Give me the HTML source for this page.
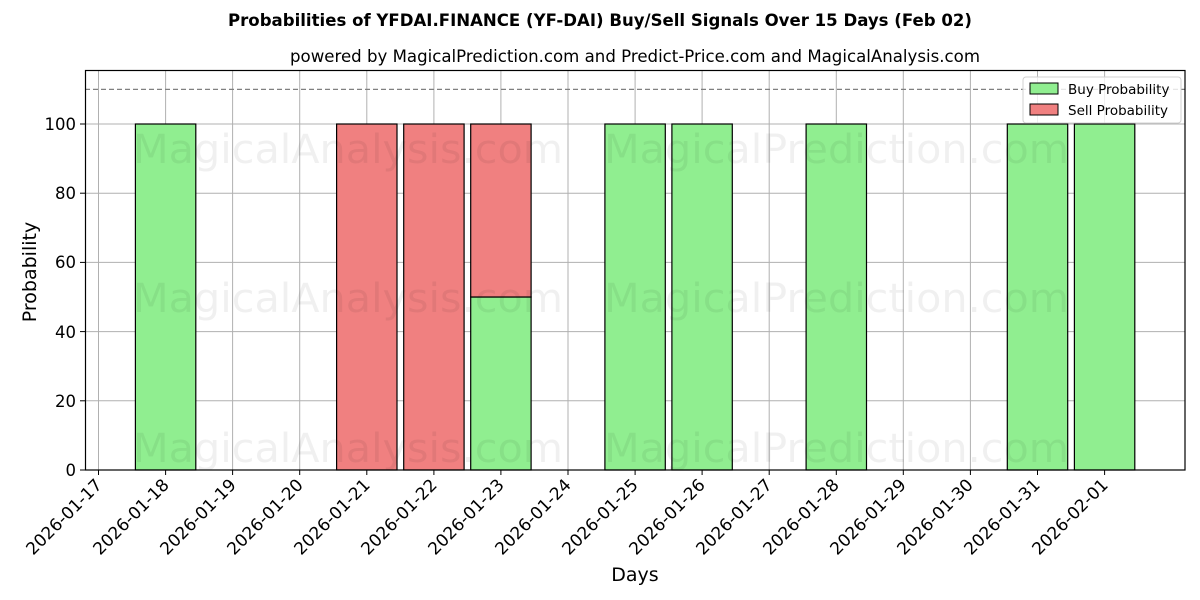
<!DOCTYPE html>
<html><head><meta charset="utf-8"><style>body{margin:0;background:#fff}svg{display:block;font-family:"DejaVu Sans","Liberation Sans",sans-serif}</style></head>
<body>
<svg width="1200" height="600" xmlns="http://www.w3.org/2000/svg">
<rect width="1200" height="600" fill="#fff"/>
<text x="600" y="26" text-anchor="middle" font-size="16.5" font-weight="bold" textLength="744" lengthAdjust="spacingAndGlyphs">Probabilities of YFDAI.FINANCE (YF-DAI) Buy/Sell Signals Over 15 Days (Feb 02)</text>
<text x="635" y="62" text-anchor="middle" font-size="16.5" textLength="690" lengthAdjust="spacingAndGlyphs">powered by MagicalPrediction.com and Predict-Price.com and MagicalAnalysis.com</text>
<g stroke="#b0b0b0" stroke-width="1">
<line x1="98.5" y1="70" x2="98.5" y2="470"/><line x1="165.6" y1="70" x2="165.6" y2="470"/><line x1="232.6" y1="70" x2="232.6" y2="470"/><line x1="299.7" y1="70" x2="299.7" y2="470"/><line x1="366.8" y1="70" x2="366.8" y2="470"/><line x1="433.9" y1="70" x2="433.9" y2="470"/><line x1="500.9" y1="70" x2="500.9" y2="470"/><line x1="568" y1="70" x2="568" y2="470"/><line x1="635.1" y1="70" x2="635.1" y2="470"/><line x1="702.1" y1="70" x2="702.1" y2="470"/><line x1="769.2" y1="70" x2="769.2" y2="470"/><line x1="836.3" y1="70" x2="836.3" y2="470"/><line x1="903.3" y1="70" x2="903.3" y2="470"/><line x1="970.4" y1="70" x2="970.4" y2="470"/><line x1="1037.5" y1="70" x2="1037.5" y2="470"/><line x1="1104.6" y1="70" x2="1104.6" y2="470"/>
<line x1="85" y1="124" x2="1185" y2="124"/><line x1="85" y1="193.2" x2="1185" y2="193.2"/><line x1="85" y1="262.4" x2="1185" y2="262.4"/><line x1="85" y1="331.6" x2="1185" y2="331.6"/><line x1="85" y1="400.8" x2="1185" y2="400.8"/>
</g>
<line x1="85" y1="89.4" x2="1185" y2="89.4" stroke="#808080" stroke-width="1.2" stroke-dasharray="5,3"/>
<g stroke="#000" stroke-width="1.2">
<rect x="135.4" y="124" width="60.4" height="346" fill="#90ee90"/>
<rect x="336.6" y="124" width="60.4" height="346" fill="#f08080"/>
<rect x="403.7" y="124" width="60.4" height="346" fill="#f08080"/>
<rect x="470.7" y="297" width="60.4" height="173" fill="#90ee90"/>
<rect x="470.7" y="124" width="60.4" height="173" fill="#f08080"/>
<rect x="604.9" y="124" width="60.4" height="346" fill="#90ee90"/>
<rect x="671.9" y="124" width="60.4" height="346" fill="#90ee90"/>
<rect x="806.1" y="124" width="60.4" height="346" fill="#90ee90"/>
<rect x="1007.3" y="124" width="60.4" height="346" fill="#90ee90"/>
<rect x="1074.4" y="124" width="60.4" height="346" fill="#90ee90"/>
</g>
<g font-size="40" fill="#000" fill-opacity="0.06">
<text x="133" y="163" textLength="430" lengthAdjust="spacingAndGlyphs">MagicalAnalysis.com</text><text x="604" y="163" textLength="465" lengthAdjust="spacingAndGlyphs">MagicalPrediction.com</text>
<text x="133" y="312" textLength="430" lengthAdjust="spacingAndGlyphs">MagicalAnalysis.com</text><text x="604" y="312" textLength="465" lengthAdjust="spacingAndGlyphs">MagicalPrediction.com</text>
<text x="133" y="462" textLength="430" lengthAdjust="spacingAndGlyphs">MagicalAnalysis.com</text><text x="604" y="462" textLength="465" lengthAdjust="spacingAndGlyphs">MagicalPrediction.com</text>
</g>
<rect x="85.5" y="70.5" width="1099.5" height="399.5" fill="none" stroke="#000" stroke-width="1.2"/>
<g stroke="#000" stroke-width="1">
<line x1="80" y1="470" x2="85" y2="470"/><line x1="80" y1="400.8" x2="85" y2="400.8"/><line x1="80" y1="331.6" x2="85" y2="331.6"/><line x1="80" y1="262.4" x2="85" y2="262.4"/><line x1="80" y1="193.2" x2="85" y2="193.2"/><line x1="80" y1="124" x2="85" y2="124"/>
</g>
<g font-size="16.5" text-anchor="end">
<text x="76" y="476">0</text><text x="76" y="407">20</text><text x="76" y="338">40</text><text x="76" y="268">60</text><text x="76" y="199">80</text><text x="76" y="130">100</text>
</g>
<g stroke="#000" stroke-width="1">
<line x1="98.5" y1="470" x2="98.5" y2="475"/><line x1="165.6" y1="470" x2="165.6" y2="475"/><line x1="232.6" y1="470" x2="232.6" y2="475"/><line x1="299.7" y1="470" x2="299.7" y2="475"/><line x1="366.8" y1="470" x2="366.8" y2="475"/><line x1="433.9" y1="470" x2="433.9" y2="475"/><line x1="500.9" y1="470" x2="500.9" y2="475"/><line x1="568" y1="470" x2="568" y2="475"/><line x1="635.1" y1="470" x2="635.1" y2="475"/><line x1="702.1" y1="470" x2="702.1" y2="475"/><line x1="769.2" y1="470" x2="769.2" y2="475"/><line x1="836.3" y1="470" x2="836.3" y2="475"/><line x1="903.3" y1="470" x2="903.3" y2="475"/><line x1="970.4" y1="470" x2="970.4" y2="475"/><line x1="1037.5" y1="470" x2="1037.5" y2="475"/><line x1="1104.6" y1="470" x2="1104.6" y2="475"/>
</g>
<g font-size="17" text-anchor="end">
<text transform="translate(103,486) rotate(-45)">2026-01-17</text>
<text transform="translate(170,486) rotate(-45)">2026-01-18</text>
<text transform="translate(237,486) rotate(-45)">2026-01-19</text>
<text transform="translate(304,486) rotate(-45)">2026-01-20</text>
<text transform="translate(371,486) rotate(-45)">2026-01-21</text>
<text transform="translate(438,486) rotate(-45)">2026-01-22</text>
<text transform="translate(505,486) rotate(-45)">2026-01-23</text>
<text transform="translate(572,486) rotate(-45)">2026-01-24</text>
<text transform="translate(639,486) rotate(-45)">2026-01-25</text>
<text transform="translate(706,486) rotate(-45)">2026-01-26</text>
<text transform="translate(773,486) rotate(-45)">2026-01-27</text>
<text transform="translate(840,486) rotate(-45)">2026-01-28</text>
<text transform="translate(907,486) rotate(-45)">2026-01-29</text>
<text transform="translate(974,486) rotate(-45)">2026-01-30</text>
<text transform="translate(1041,486) rotate(-45)">2026-01-31</text>
<text transform="translate(1109,486) rotate(-45)">2026-02-01</text>
</g>
<text x="635" y="581" text-anchor="middle" font-size="19">Days</text>
<text transform="translate(36,272) rotate(-90)" text-anchor="middle" font-size="19">Probability</text>
<rect x="1023" y="77" width="158" height="46" rx="3" fill="#fff" fill-opacity="0.8" stroke="#d0d0d0"/>
<rect x="1030" y="83" width="28" height="11" fill="#90ee90" stroke="#000"/>
<rect x="1030" y="104" width="28" height="11" fill="#f08080" stroke="#000"/>
<text x="1068" y="94" font-size="13.5">Buy Probability</text>
<text x="1068" y="115" font-size="13.5">Sell Probability</text>
</svg>
</body></html>
